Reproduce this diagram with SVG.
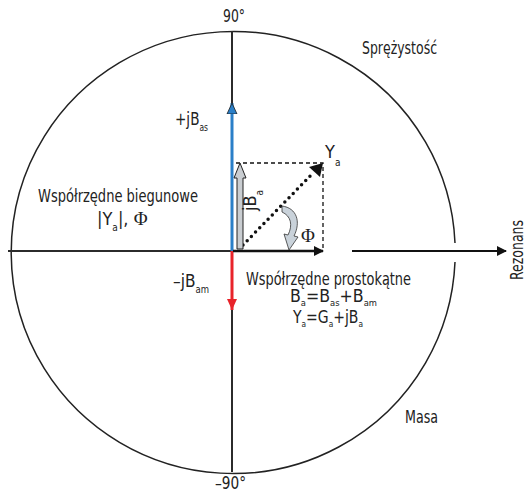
<svg xmlns="http://www.w3.org/2000/svg" width="528" height="492" viewBox="0 0 528 492">
<style>
text{font-family:"DejaVu Sans Condensed","Liberation Sans",sans-serif;fill:#222;}
.t{font-size:18px;}
.f{font-size:17px;}
.s{font-size:10px;}
.ss{font-size:9px;}
.phi{font-family:"Liberation Serif","DejaVu Serif",serif;font-size:19px;}
.ax{stroke:#2b2b2b;stroke-width:2;fill:none;}
</style>
<defs>
<marker id="ab" markerWidth="10" markerHeight="10" refX="9" refY="5" orient="auto" markerUnits="userSpaceOnUse"><path d="M0,0 L10,5 L0,10 Z" fill="#111"/></marker>
<marker id="ablue" markerWidth="12" markerHeight="12" refX="11" refY="6" orient="auto" markerUnits="userSpaceOnUse"><path d="M0,1 L11,6 L0,11 Z" fill="#2a7fc8" stroke="#1a1a1a" stroke-width="0.8"/></marker>
<marker id="ared" markerWidth="12" markerHeight="12" refX="11" refY="6" orient="auto" markerUnits="userSpaceOnUse"><path d="M0,1 L11,6 L0,11 Z" fill="#e8232a"/></marker>
</defs>
<g id="circle">
<path d="M 455 243 A 222 221 0 1 0 455 262" fill="none" stroke="#222" stroke-width="1.5"/>
</g>
<g id="connectors">
<line class="ax" x1="232" y1="31" x2="232" y2="472"/>
<line class="ax" x1="8" y1="251" x2="232" y2="251"/>
<line x1="352" y1="251" x2="506" y2="251" stroke="#111" stroke-width="2.2" marker-end="url(#ab)"/>
<line x1="232" y1="251" x2="232" y2="103" stroke="#2a7fc8" stroke-width="3" marker-end="url(#ablue)"/>
<line x1="232" y1="251" x2="232" y2="310" stroke="#e8232a" stroke-width="3" marker-end="url(#ared)"/>
<line x1="233" y1="251" x2="323" y2="251" stroke="#111" stroke-width="2.5" marker-end="url(#ab)"/>
<path d="M 236 163 L 323 163 L 323 250" fill="none" stroke="#111" stroke-width="1.3" stroke-dasharray="4,3"/>
<line x1="243" y1="245" x2="314" y2="172" stroke="#111" stroke-width="3.5" stroke-linecap="round" stroke-dasharray="0,6"/>
<path d="M 323 163 L 320 177 L 309 167 Z" fill="#111"/>
<path d="M 237 249 L 237 178 L 234 178 L 240 163 L 246 178 L 243 178 L 243 249 Z" fill="#c9cdd1" stroke="#222" stroke-width="1"/>
<path d="M 282 206 C 297 208 301 222 294 236 L 298 237 L 289 250 L 284 234 L 288 235 C 293 225 291 216 282 212 Z" fill="#c9d2da" stroke="#333" stroke-width="0.8"/>
</g>
<g id="labels">
<text class="t" x="223" y="22" textLength="22" lengthAdjust="spacingAndGlyphs">90°</text>
<text class="t" x="215" y="489" textLength="31" lengthAdjust="spacingAndGlyphs">–90°</text>
<text class="t" x="362" y="54" textLength="75" lengthAdjust="spacingAndGlyphs">Sprężystość</text>
<text class="t" x="405" y="423" textLength="33" lengthAdjust="spacingAndGlyphs">Masa</text>
<text class="t" x="175" y="125" textLength="33" lengthAdjust="spacingAndGlyphs">+jB<tspan class="s" dy="6">as</tspan></text>
<text class="t" x="173" y="287" textLength="36" lengthAdjust="spacingAndGlyphs">–jB<tspan class="s" dy="6">am</tspan></text>
<text class="t" x="38" y="202" textLength="160" lengthAdjust="spacingAndGlyphs">Współrzędne biegunowe</text>
<text class="t" x="97" y="225">|Y<tspan class="s" dy="6">a</tspan><tspan dy="-6">|, </tspan><tspan class="phi">Φ</tspan></text>
<text class="t" x="325" y="158">Y<tspan class="s" dy="8">a</tspan></text>
<text class="phi" x="301" y="242">Φ</text>
<text class="t" transform="translate(256,211) rotate(-90)">jB<tspan class="s" dy="7">a</tspan></text>
<text class="t" x="246" y="285" textLength="165" lengthAdjust="spacingAndGlyphs">Współrzędne prostokątne</text>
<text class="f" x="290" y="302" textLength="87" lengthAdjust="spacingAndGlyphs">B<tspan class="ss" dy="4">a</tspan><tspan dy="-4">=B</tspan><tspan class="ss" dy="4">as</tspan><tspan dy="-4">+B</tspan><tspan class="ss" dy="4">am</tspan></text>
<text class="f" x="293" y="323" textLength="70" lengthAdjust="spacingAndGlyphs">Y<tspan class="ss" dy="4">a</tspan><tspan dy="-4">=G</tspan><tspan class="ss" dy="4">a</tspan><tspan dy="-4">+jB</tspan><tspan class="ss" dy="4">a</tspan></text>
<text class="t" transform="translate(523,280) rotate(-90)" textLength="60" lengthAdjust="spacingAndGlyphs">Rezonans</text>
</g>
</svg>
